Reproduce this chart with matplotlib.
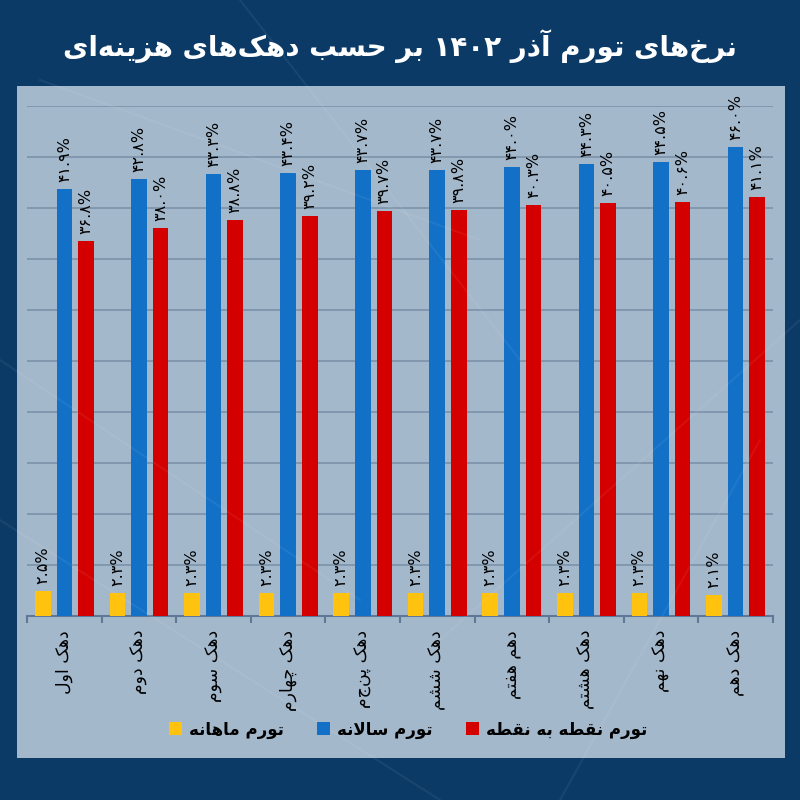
import numpy as np
import matplotlib
matplotlib.use('Agg')
import matplotlib.pyplot as plt
from matplotlib.patches import Rectangle, Patch

# data (percent)
deciles = ['دهک اول', 'دهک دوم', 'دهک سوم', 'دهک چهارم', 'دهک پنجم',
           'دهک ششم', 'دهم هفتم', 'دهک هشتم', 'دهک نهم', 'دهک دهم']
monthly = [2.5, 2.3, 2.3, 2.3, 2.3, 2.3, 2.3, 2.3, 2.3, 2.1]
annual = [41.9, 42.8, 43.3, 43.4, 43.7, 43.7, 44.0, 44.3, 44.5, 46.0]
point = [36.8, 38.0, 38.8, 39.2, 39.7, 39.8, 40.3, 40.5, 40.6, 41.1]
series_names = ['تورم ماهانه', 'تورم سالانه', 'تورم نقطه به نقطه']
title = 'نرخ‌های تورم آذر ۱۴۰۲ بر حسب دهک‌های هزینه‌ای'

colors = ['#ffc20e', '#1270c6', '#d40000']

# --- tiny persian shaper (no arabic_reshaper / bidi available) ---
# isolated, final, initial, medial
FORMS = {
    'ا': (0xFE8D, 0xFE8E), 'آ': (0xFE81, 0xFE82),
    'ب': (0xFE8F, 0xFE90, 0xFE91, 0xFE92), 'پ': (0xFB56, 0xFB57, 0xFB58, 0xFB59),
    'ت': (0xFE95, 0xFE96, 0xFE97, 0xFE98), 'ح': (0xFEA1, 0xFEA2, 0xFEA3, 0xFEA4),
    'خ': (0xFEA5, 0xFEA6, 0xFEA7, 0xFEA8), 'چ': (0xFB7A, 0xFB7B, 0xFB7C, 0xFB7D),
    'د': (0xFEA9, 0xFEAA), 'ذ': (0xFEAB, 0xFEAC), 'ر': (0xFEAD, 0xFEAE),
    'ز': (0xFEAF, 0xFEB0), 'س': (0xFEB1, 0xFEB2, 0xFEB3, 0xFEB4),
    'ش': (0xFEB5, 0xFEB6, 0xFEB7, 0xFEB8), 'ط': (0xFEC1, 0xFEC2, 0xFEC3, 0xFEC4),
    'ف': (0xFED1, 0xFED2, 0xFED3, 0xFED4), 'ق': (0xFED5, 0xFED6, 0xFED7, 0xFED8),
    'ک': (0xFB8E, 0xFB8F, 0xFB90, 0xFB91), 'ل': (0xFEDD, 0xFEDE, 0xFEDF, 0xFEE0),
    'م': (0xFEE1, 0xFEE2, 0xFEE3, 0xFEE4), 'ن': (0xFEE5, 0xFEE6, 0xFEE7, 0xFEE8),
    'ه': (0xFEE9, 0xFEEA, 0xFEEB, 0xFEEC), 'و': (0xFEED, 0xFEEE),
    'ی': (0xFBFC, 0xFBFD, 0xFBFE, 0xFBFF),
}
LTR = set('۰۱۲۳۴۵۶۷۸۹0123456789.%')


def fa(text):
    ch = list(text)
    out = []
    i = 0
    while i < len(ch):
        c = ch[i]
        if c not in FORMS:
            if c != '\u200c':
                out.append(c)
            i += 1
            continue
        prev = ch[i - 1] if i > 0 else None
        jp = prev in FORMS and len(FORMS[prev]) == 4
        nxt = ch[i + 1] if i + 1 < len(ch) else None
        if c == 'ل' and nxt == 'ا':
            out.append(chr(0xFEFC if jp else 0xFEFB))
            i += 2
            continue
        jn = nxt in FORMS and len(FORMS[c]) == 4
        f = FORMS[c]
        if jp and jn:
            out.append(chr(f[3]))
        elif jp:
            out.append(chr(f[1]))
        elif jn:
            out.append(chr(f[2]))
        else:
            out.append(chr(f[0]))
        i += 1
    # visual order: reverse, keeping digit runs left-to-right
    runs, cur = [], ''
    for c in out:
        if cur and ((c in LTR) != (cur[0] in LTR)):
            runs.append(cur)
            cur = ''
        cur += c
    runs.append(cur)
    return ''.join(r if r[0] in LTR else r[::-1] for r in runs[::-1])


def fa_num(v):
    return f'{v:.1f}%'.translate(str.maketrans('0123456789', '۰۱۲۳۴۵۶۷۸۹'))


plt.rcParams['font.family'] = ['DejaVu Sans']

fig = plt.figure(figsize=(8, 8), dpi=100)
fig.patch.set_facecolor('#0b3a66')

# faint background network lines
for (x0, y0, x1, y1) in [(0.0, 0.35, 0.55, 0.0), (0.0, 0.55, 0.45, 0.25), (0.55, 0.2, 1.0, 0.6),
                         (0.3, 1.0, 0.65, 0.55), (0.7, 0.0, 0.95, 0.45), (0.05, 0.9, 0.6, 0.7)]:
    fig.add_artist(plt.Line2D([x0, x1], [y0, y1], transform=fig.transFigure,
                              color='white', alpha=0.06, lw=1.5))

panel = Rectangle((0.021, 0.0525), 0.96, 0.84, transform=fig.transFigure,
                  facecolor='#a4b8cc', edgecolor='none', zorder=0)
fig.add_artist(panel)

ax = fig.add_axes([0.034, 0.23, 0.932, 0.6375])
ax.set_facecolor('none')
x = np.arange(len(deciles))
w = 0.21
offs = [-0.29, 0.0, 0.29]
for vals, off, col in zip([monthly, annual, point], offs, colors):
    bars = ax.bar(x + off, vals, width=w, color=col, zorder=3)
    for b, v in zip(bars, vals):
        ax.annotate(fa_num(v), (b.get_x() + b.get_width() / 2, v), xytext=(0, 5),
                    textcoords='offset points', rotation=90, ha='center', va='bottom',
                    fontsize=11.5, color='black', zorder=4)

ax.set_ylim(0, 50)
ax.set_xlim(-0.5, len(deciles) - 0.5)
ax.set_yticks(np.arange(0, 51, 5))
ax.yaxis.grid(True, color='#7b92aa', lw=1.2)
ax.set_axisbelow(True)
ax.tick_params(axis='y', length=0, labelleft=False)
for s in ['top', 'right', 'left']:
    ax.spines[s].set_visible(False)
ax.spines['bottom'].set_color('#5f7898')
ax.spines['bottom'].set_linewidth(1.5)

ax.set_xticks(x)
ax.set_xticklabels([fa(d) for d in deciles], rotation=90, fontsize=12.5, va='top', ha='center')
ax.tick_params(axis='x', which='major', length=0, pad=10)
ax.set_xticks(np.arange(-0.5, len(deciles), 1), minor=True)
ax.tick_params(axis='x', which='minor', length=5, color='#5f7898', width=1.5)

handles = [Patch(facecolor=c) for c in colors]
leg = fig.legend(handles, [fa(s) for s in series_names], loc='center', ncol=3,
                 bbox_to_anchor=(0.51, 0.088), frameon=False,
                 handlelength=0.8, handleheight=0.8, handletextpad=0.4, columnspacing=2.0,
                 prop={'weight': 'bold', 'size': 12})

fig.text(0.5, 0.943, fa(title), ha='center', va='center', color='white',
         fontsize=20, fontweight='bold')

fig.savefig('out.png', dpi=100, facecolor=fig.get_facecolor())
